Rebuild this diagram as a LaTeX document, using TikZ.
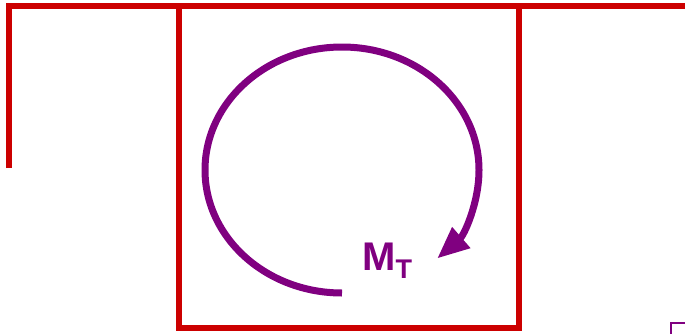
\documentclass[tikz,border=0pt]{standalone}
\usepackage{fontspec}
\setmainfont{Liberation Sans}
\usetikzlibrary{arrows.meta}
\definecolor{wallred}{HTML}{CC0000}
\definecolor{torq}{HTML}{800080}
\begin{document}
\begin{tikzpicture}[x=1pt,y=1pt,
  wall/.style={draw=wallred,line width=6pt},
  moment/.style={draw=torq,line width=7pt,-{Triangle[length=32pt,width=26pt]}},
  lbl/.style={text=torq,font=\bfseries\fontsize{40}{40}\selectfont,inner sep=0pt}]
\useasboundingbox (0,0) rectangle (685,333);
% walls
\draw[wall] (9,165) -- (9,327) -- (690,327);
\draw[wall] (179,327) -- (179,5) -- (519,5) -- (519,327);
% moment arc
\draw[moment] (342,40) arc[start angle=270,end angle=-46,x radius=137,y radius=123];
\node[lbl,anchor=base west] (mt) at (362,63) {M\raisebox{-8pt}{\fontsize{27}{27}\selectfont T}};
% small corner at bottom right
\draw[torq,line width=2pt] (671,-2) -- (671,10) -- (690,10);
\end{tikzpicture}
\end{document}
